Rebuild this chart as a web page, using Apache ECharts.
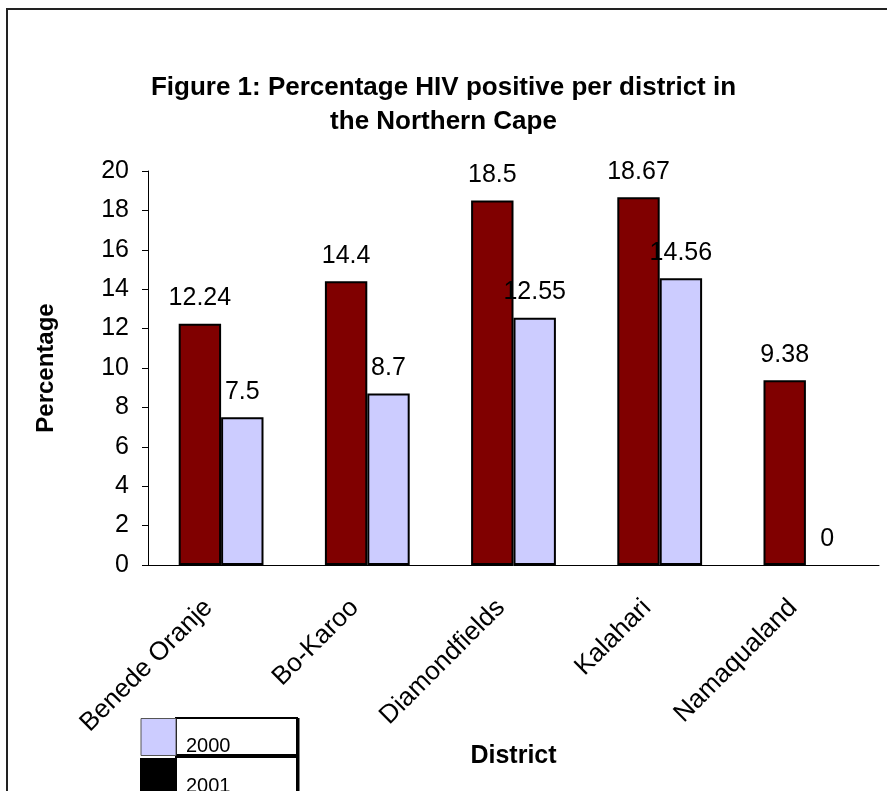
<!DOCTYPE html>
<html>
<head>
<meta charset="utf-8">
<script src="https://cdn.jsdelivr.net/npm/echarts@6/dist/echarts.min.js"></script>
<style>
  html, body { margin: 0; padding: 0; background: #fff; }
  #chart { width: 887px; height: 791px; }
</style>
</head>
<body>
<div id="chart"></div>
<script>
const districts = ['Benede Oranje', 'Bo-Karoo', 'Diamondfields', 'Kalahari', 'Namaqualand']
const values2001 = [12.24, 14.4, 18.5, 18.67, 9.38]
const values2000 = [7.5, 8.7, 12.55, 14.56, 0]
const yTicks = { min: 0, max: 20, interval: 2 }

const font = '"Liberation Sans", Arial, sans-serif'
const chart = echarts.init(document.getElementById('chart'))

function barSeries(name, data, color) {
  return {
    name,
    type: 'bar',
    // zero-height bars show no outline in the original
    data: data.map(v => (v === 0 ? { value: v, itemStyle: { borderWidth: 0 } } : v)),
    barGap: '0%',
    barCategoryGap: '42%',
    itemStyle: { color, borderColor: '#000', borderWidth: 2 },
    label: {
      show: true,
      position: 'top',
      distance: 13,
      color: '#000',
      fontFamily: font,
      fontSize: 25
    }
  }
}

chart.setOption({
  animation: false,
  backgroundColor: '#fff',
  title: {
    text: 'Figure 1: Percentage HIV positive per district in\nthe Northern Cape',
    left: 'center',
    top: 66,
    textStyle: { fontFamily: font, fontSize: 26, fontWeight: 'bold', color: '#000', lineHeight: 34 }
  },
  legend: {
    orient: 'vertical',
    left: 140,
    top: 718,
    height: 160,
    padding: 0,
    icon: 'rect',
    itemWidth: 35,
    itemHeight: 37,
    itemGap: 2,
    selectedMode: false,
    formatter: name => '{t|' + name + '}',
    textStyle: {
      fontFamily: font, fontSize: 20, color: '#000',
      rich: { t: { fontFamily: font, fontSize: 20, color: '#000', padding: [18, 0, 0, 5] } }
    },
    data: [
      { name: '2000', itemStyle: { color: '#ccccff', borderColor: '#555', borderWidth: 1 } },
      { name: '2001', itemStyle: { color: '#000' } }
    ]
  },
  grid: { left: 148, right: 8, top: 171, bottom: 226 },
  xAxis: {
    type: 'category',
    data: districts,
    name: 'District',
    nameLocation: 'middle',
    nameGap: 179,
    nameTextStyle: { fontFamily: font, fontSize: 25, fontWeight: 'bold', color: '#000' },
    axisLine: { lineStyle: { color: '#000', width: 1 } },
    axisTick: { length: 8, lineStyle: { color: '#000' } },
    axisLabel: { rotate: 45, margin: 26, padding: [0, 18, 0, 0], fontFamily: font, fontSize: 26, color: '#000', interval: 0 }
  },
  yAxis: {
    type: 'value',
    min: yTicks.min,
    max: yTicks.max,
    interval: yTicks.interval,
    name: 'Percentage',
    nameLocation: 'middle',
    nameGap: 90,
    nameTextStyle: { fontFamily: font, fontSize: 24, fontWeight: 'bold', color: '#000' },
    axisLine: { show: true, lineStyle: { color: '#000', width: 1 } },
    axisTick: { show: true, length: 6, lineStyle: { color: '#000' } },
    axisLabel: { margin: 19, fontFamily: font, fontSize: 25, color: '#000' },
    splitLine: { show: false }
  },
  graphic: [
    { type: 'rect', shape: { x: 7, y: 9, width: 900, height: 900 }, style: { fill: 'none', stroke: '#222', lineWidth: 2 }, silent: true },
    { type: 'rect', shape: { x: 176, y: 718, width: 121, height: 37 }, style: { fill: 'none', stroke: '#000', lineWidth: 2 }, silent: true },
    { type: 'rect', shape: { x: 176, y: 757, width: 121, height: 40 }, style: { fill: 'none', stroke: '#000', lineWidth: 2 }, silent: true },
    { type: 'line', shape: { x1: 298, y1: 718, x2: 298, y2: 791 }, style: { stroke: '#000', lineWidth: 3 }, silent: true },
    { type: 'line', shape: { x1: 176, y1: 756, x2: 298, y2: 756 }, style: { stroke: '#000', lineWidth: 3 }, silent: true }
  ],
  series: [
    barSeries('2001', values2001, '#800000'),
    barSeries('2000', values2000, '#ccccff')
  ]
})
</script>
</body>
</html>
